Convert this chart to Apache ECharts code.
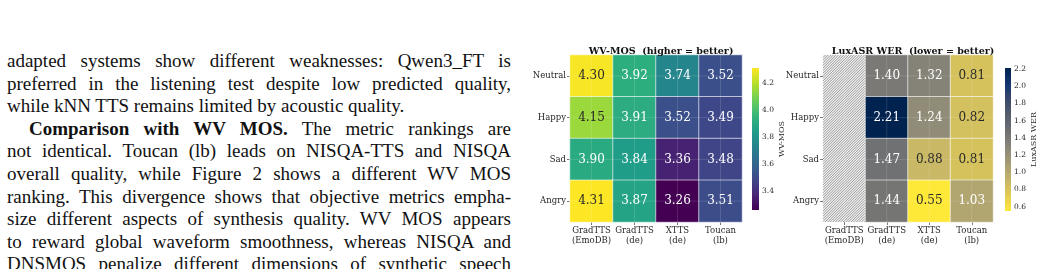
<!DOCTYPE html>
<html><head><meta charset="utf-8">
<script src="https://cdn.jsdelivr.net/npm/echarts@6/dist/echarts.min.js"></script>
<style>
html,body{margin:0;padding:0;background:#fff;}
#wrap{position:relative;width:1039px;height:269px;overflow:hidden;}
#chart{position:absolute;left:0;top:0;width:1039px;height:269px;}
#para{position:absolute;left:7px;top:50px;width:504px;font-family:'Liberation Serif',serif;font-size:19px;line-height:22.6px;color:#111;}
#para div{text-align:justify;text-align-last:justify;white-space:nowrap;}
#para div.last{text-align-last:left;}
#para div.ind{padding-left:22px;}
</style></head>
<body><div id="wrap">
<div id="para">
<div>adapted systems show different weaknesses: Qwen3_FT is</div>
<div>preferred in the listening test despite low predicted quality,</div>
<div class="last">while kNN TTS remains limited by acoustic quality.</div>
<div class="ind"><b>Comparison with WV MOS.</b> The metric rankings are</div>
<div>not identical. Toucan (lb) leads on NISQA-TTS and NISQA</div>
<div>overall quality, while Figure 2 shows a different WV MOS</div>
<div>ranking. This divergence shows that objective metrics empha-</div>
<div>size different aspects of synthesis quality. WV MOS appears</div>
<div>to reward global waveform smoothness, whereas NISQA and</div>
<div>DNSMOS penalize different dimensions of synthetic speech</div>
</div>
<div id="chart"></div>
</div>
<script>
const rows = ['Neutral', 'Happy', 'Sad', 'Angry'];
const cols = ['GradTTS\n(EmoDB)', 'GradTTS\n(de)', 'XTTS\n(de)', 'Toucan\n(lb)'];
const wvmos = [
  [4.30, 3.92, 3.74, 3.52],
  [4.15, 3.91, 3.52, 3.49],
  [3.90, 3.84, 3.36, 3.48],
  [4.31, 3.87, 3.26, 3.51]
];
const wer = [
  [null, 1.40, 1.32, 0.81],
  [null, 2.21, 1.24, 0.82],
  [null, 1.47, 0.88, 0.81],
  [null, 1.44, 0.55, 1.03]
];
const wvTicks = [3.4, 3.6, 3.8, 4.0, 4.2];
const werTicks = [0.6, 0.8, 1.0, 1.2, 1.4, 1.6, 1.8, 2.0, 2.2];
const titles = ['WV-MOS  (higher = better)', 'LuxASR WER  (lower = better)'];
const cbarNames = ['WV-MOS', 'LuxASR WER'];

const viridis = ['#440154','#482878','#3e4989','#31688e','#26828e','#1f9e89','#35b779','#6ece58','#b5de2b','#fde725'];
const cividisR = ['#fee838','#e1cc55','#c3b369','#a59c74','#8a8678','#707173','#575d6d','#3b496c','#123570','#00224e'];

const FONT = 'DejaVu Serif';
const TXT = '#262626';

function flat(m) { return m.flat().filter(v => v != null); }
const wvMin = Math.min(...flat(wvmos)), wvMax = Math.max(...flat(wvmos));
const werMin = Math.min(...flat(wer)), werMax = Math.max(...flat(wer));

function heatData(m, mn, mx, reversed) {
  const out = [];
  m.forEach((r, ri) => r.forEach((v, ci) => {
    if (v == null) return;
    let t = (v - mn) / (mx - mn);
    if (reversed) t = 1 - t;
    out.push({ value: [ci, ri, v], label: { color: t > 0.75 ? TXT : '#ffffff' } });
  }));
  return out;
}

function gridAxes(gi) {
  return {
    x: { type: 'category', gridIndex: gi, data: cols, position: 'bottom',
      axisLine: { show: false }, splitLine: { show: false },
      axisTick: { show: true, alignWithLabel: true, length: 3, lineStyle: { color: '#555', width: 0.8 } },
      axisLabel: { interval: 0, fontFamily: FONT, fontSize: 8.5, color: TXT, lineHeight: 10, margin: 4 } },
    y: { type: 'category', gridIndex: gi, data: rows, inverse: true,
      axisLine: { show: false }, splitLine: { show: false },
      axisTick: { show: true, alignWithLabel: true, length: 3, lineStyle: { color: '#555', width: 0.8 } },
      axisLabel: { interval: 0, fontFamily: FONT, fontSize: 8.5, color: TXT, margin: 4 } }
  };
}
const a0 = gridAxes(0), a1 = gridAxes(1);

function cbarAxes(gi, mn, mx, ticks, name) {
  return {
    x: { type: 'value', gridIndex: gi, min: 0, max: 1, show: false },
    y: { type: 'value', gridIndex: gi, min: mn, max: mx, position: 'right',
      axisLine: { show: false }, splitLine: { show: false },
      axisTick: { show: true, length: 2, customValues: ticks, lineStyle: { color: '#444', width: 0.8 } },
      axisLabel: { customValues: ticks, fontFamily: FONT, fontSize: 7.5, color: TXT, margin: 3,
        formatter: v => Number(v).toFixed(1) },
      name: name, nameLocation: 'middle', nameRotate: 90, nameGap: 18,
      nameTextStyle: { fontFamily: FONT, fontSize: 8, color: TXT } }
  };
}
const c0 = cbarAxes(2, wvMin, wvMax, wvTicks, cbarNames[0]);
const c1 = cbarAxes(3, werMin, werMax, werTicks, cbarNames[1]);

function gradStops(colors) {
  return colors.map((c, i) => ({ offset: i / (colors.length - 1), color: c }));
}
function cbarSeries(xi, yi, mn, mx, colors) {
  return {
    type: 'custom', xAxisIndex: xi, yAxisIndex: yi, silent: true,
    data: [[0, mn, mx]],
    renderItem: function (params, api) {
      const p1 = api.coord([0, api.value(2)]);
      const p2 = api.coord([1, api.value(1)]);
      return { type: 'rect', shape: { x: p1[0], y: p1[1], width: p2[0] - p1[0], height: p2[1] - p1[1] },
        style: { fill: new echarts.graphic.LinearGradient(0, 1, 0, 0, gradStops(colors)) } };
    }
  };
}

// faint grid lines through cell centres (style grid)
function gridLineSeries(ai) {
  const items = cols.map((c, i) => [0, i]).concat(rows.map((r, i) => [1, i]));
  return {
    type: 'custom', xAxisIndex: ai, yAxisIndex: ai, silent: true, z: 3,
    data: items,
    renderItem: function (params, api) {
      const kind = api.value(0), idx = api.value(1);
      const size = api.size([1, 1]);
      const first = api.coord([0, 0]), last = api.coord([cols.length - 1, rows.length - 1]);
      const xl = first[0] - size[0] / 2, xr = last[0] + size[0] / 2;
      const yt = Math.min(first[1], last[1]) - size[1] / 2, yb = Math.max(first[1], last[1]) + size[1] / 2;
      let shape;
      if (kind === 0) { const x = api.coord([idx, 0])[0]; shape = { x1: x, y1: yt, x2: x, y2: yb }; }
      else { const y = api.coord([0, idx])[1]; shape = { x1: xl, y1: y, x2: xr, y2: y }; }
      return { type: 'line', shape: shape, style: { stroke: 'rgba(255,255,255,0.16)', lineWidth: 0.8 } };
    }
  };
}

// columns where all values are missing -> hatched
const nanCols = cols.map((c, ci) => ci).filter(ci => wer.every(r => r[ci] == null));

const hatchSeries = {
  type: 'custom', xAxisIndex: 1, yAxisIndex: 1, silent: true, z: 1,
  data: nanCols.map(ci => [ci]),
  renderItem: function (params, api) {
    const ci = api.value(0);
    const size = api.size([1, 1]);
    const pa = api.coord([ci, 0]), pb = api.coord([ci, rows.length - 1]);
    const x0 = pa[0] - size[0] / 2, x1 = pa[0] + size[0] / 2;
    const y0 = Math.min(pa[1], pb[1]) - size[1] / 2, y1 = Math.max(pa[1], pb[1]) + size[1] / 2;
    const children = [{ type: 'rect', shape: { x: x0, y: y0, width: x1 - x0, height: y1 - y0 }, style: { fill: '#eeeeee' } }];
    const step = 2.6;
    for (let c = x0 + y0; c <= x1 + y1; c += step) {
      const xa = Math.max(x0, c - y1), xb = Math.min(x1, c - y0);
      if (xb <= xa) continue;
      children.push({ type: 'line', shape: { x1: xa, y1: c - xa, x2: xb, y2: c - xb },
        style: { stroke: '#8a8a8a', lineWidth: 0.8 } });
    }
    return { type: 'group', children: children };
  }
};

const heatCommon = {
  type: 'heatmap',
  label: { show: true, fontFamily: FONT, fontSize: 12, formatter: p => p.value[2].toFixed(2) },
  itemStyle: { borderColor: 'rgba(255,255,255,0.75)', borderWidth: 0.8 },
  emphasis: { disabled: true }
};

const option = {
  animation: false,
  backgroundColor: 'transparent',
  title: [
    { text: titles[0], left: 656, top: 42, textAlign: 'center',
      textStyle: { fontFamily: FONT, fontWeight: 'bold', fontSize: 9.5, color: '#111' } },
    { text: titles[1], left: 908, top: 42, textAlign: 'center',
      textStyle: { fontFamily: FONT, fontWeight: 'bold', fontSize: 9.5, color: '#111' } }
  ],
  grid: [
    { left: 570, top: 55, width: 172, height: 167 },
    { left: 823, top: 55, width: 170, height: 167 },
    { left: 752, top: 68, width: 7, height: 142 },
    { left: 1005, top: 68, width: 6, height: 143 }
  ],
  xAxis: [a0.x, a1.x, c0.x, c1.x],
  yAxis: [a0.y, a1.y, c0.y, c1.y],
  visualMap: [
    { type: 'continuous', show: false, seriesIndex: 0, dimension: 2, min: wvMin, max: wvMax, inRange: { color: viridis } },
    { type: 'continuous', show: false, seriesIndex: 2, dimension: 2, min: werMin, max: werMax, inRange: { color: cividisR } }
  ],
  series: [
    Object.assign({}, heatCommon, { xAxisIndex: 0, yAxisIndex: 0, data: heatData(wvmos, wvMin, wvMax, false) }),
    hatchSeries,
    Object.assign({}, heatCommon, { xAxisIndex: 1, yAxisIndex: 1, z: 2, data: heatData(wer, werMin, werMax, true) }),
    cbarSeries(2, 2, wvMin, wvMax, viridis),
    cbarSeries(3, 3, werMin, werMax, cividisR),
    gridLineSeries(0),
    gridLineSeries(1)
  ]
};
const chart = echarts.init(document.getElementById('chart'), null, { renderer: 'canvas' });
chart.setOption(option);
</script>
</body></html>
